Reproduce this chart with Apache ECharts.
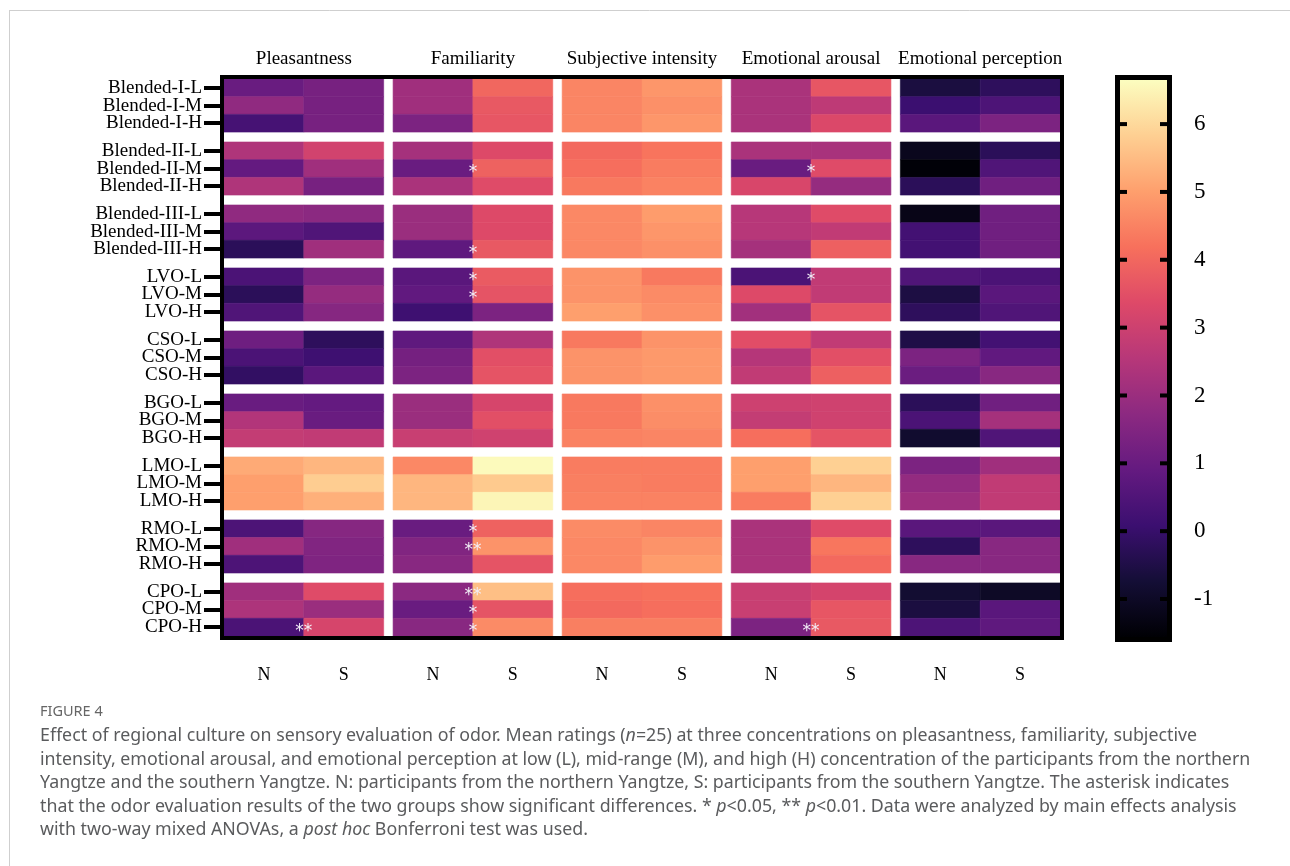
<!DOCTYPE html>
<html><head><meta charset="utf-8">
<script src="https://cdn.jsdelivr.net/npm/echarts@6/dist/echarts.min.js"></script>
<style>html,body{margin:0;padding:0;background:#fff}#c{width:1290px;height:866px}</style>
</head><body><div id="c"></div>
<script>
const rowLabels = ['Blended-I-L','Blended-I-M','Blended-I-H','Blended-II-L','Blended-II-M','Blended-II-H',
  'Blended-III-L','Blended-III-M','Blended-III-H','LVO-L','LVO-M','LVO-H','CSO-L','CSO-M','CSO-H',
  'BGO-L','BGO-M','BGO-H','LMO-L','LMO-M','LMO-H','RMO-L','RMO-M','RMO-H','CPO-L','CPO-M','CPO-H'];
const dimensions = ['Pleasantness','Familiarity','Subjective intensity','Emotional arousal','Emotional perception'];
const regionLabels = ['N','S'];
const colorbarTicks = [-1,0,1,2,3,4,5,6];

const pleasantnessN = [1.0,1.8,0.3, 2.4,0.9,2.4, 1.8,0.75,-0.25, 0.4,-0.25,0.5, 1.1,0.4,-0.1, 1.0,2.45,2.8, 5.2,5.0,5.0, 0.45,2.1,0.45, 2.1,2.35,0.4];
const pleasantnessS = [1.3,1.3,1.3, 3.1,2.1,1.3, 1.7,0.5,2.1, 1.4,1.9,1.6, -0.2,0.15,0.7, 0.9,1.0,2.75, 5.4,5.8,5.3, 1.6,1.5,1.45, 3.4,2.0,3.2];
const familiarityN = [2.1,2.1,1.4, 2.2,1.0,2.3, 2.0,2.0,0.8, 0.7,0.85,0.15, 0.8,1.25,1.4, 2.0,2.0,2.9, 4.6,5.4,5.4, 1.0,1.5,1.65, 1.7,1.0,1.65];
const familiarityS = [4.0,3.7,3.65, 3.35,3.9,3.4, 3.35,3.35,3.7, 3.75,3.6,1.4, 2.4,3.5,3.6, 3.2,3.5,3.05, 6.6,5.75,6.5, 3.9,4.8,3.6, 5.55,3.6,4.65];
const intensityN = [4.55,4.55,4.55, 4.05,4.15,4.35, 4.6,4.6,4.6, 4.8,4.8,5.0, 4.35,4.8,4.8, 4.35,4.35,4.5, 4.4,4.45,4.5, 4.65,4.6,4.6, 4.15,4.05,4.45];
const intensityS = [4.85,4.75,4.85, 4.25,4.4,4.5, 4.95,4.85,4.75, 4.35,4.65,4.75, 4.8,4.9,4.9, 4.75,4.7,4.55, 4.4,4.4,4.5, 4.55,4.8,4.95, 4.2,4.15,4.45];
const arousalN = [2.3,2.3,2.3, 2.3,1.0,3.25, 2.55,2.55,2.2, 0.4,3.35,2.15, 3.45,2.5,2.75, 3.0,2.8,4.15, 5.0,5.0,4.4, 2.3,2.3,2.3, 2.9,2.9,1.4];
const arousalS = [3.65,2.7,3.3, 2.25,3.4,1.9, 3.4,2.75,3.85, 2.75,2.75,3.6, 2.75,3.5,3.85, 3.05,3.05,3.6, 5.85,5.4,5.85, 3.4,4.3,4.05, 3.15,3.65,3.7];
const perceptionN = [-0.6,0.08,0.7, -1.15,-1.5,-0.25, -1.25,0.25,0.25, 0.5,-0.55,-0.2, -0.5,1.4,1.05, -0.25,0.4,-0.85, 1.4,1.85,2.05, 0.7,-0.2,1.65, -0.8,-0.6,0.45];
const perceptionS = [-0.2,0.45,1.4, -0.25,0.5,1.15, 1.15,1.15,1.15, 0.4,0.7,0.5, 0.25,0.85,1.65, 1.15,2.2,0.5, 2.1,2.75,2.75, 0.7,1.65,1.65, -1.0,0.7,0.8];

// significance marks: [dimension index, row index, mark]
const significance = [
  [1,4,'*'],[1,8,'*'],[1,9,'*'],[1,10,'*'],[1,21,'*'],[1,22,'**'],[1,24,'**'],[1,25,'*'],[1,26,'*'],
  [3,4,'*'],[3,9,'*'],[3,26,'**'],
  [0,26,'**']
];

const seriesByColumn = [pleasantnessN,pleasantnessS,familiarityN,familiarityS,intensityN,intensityS,arousalN,arousalS,perceptionN,perceptionS];
const magma = ['#000004','#140e36','#3b0f70','#641a80','#8c2981','#b73779','#de4968','#f7705c','#fe9f6d','#fecf92','#fcfdbf'];

const GAP_X = 0.118, GAP_Y = 0.56;
const X_MAX = 10 + 4*GAP_X, Y_MAX = 27 + 8*GAP_Y;
const C_MIN = -1.56, C_MAX = 6.65;

const cells = [];
seriesByColumn.forEach((arr, c) => arr.forEach((v, r) => cells.push([c, r, v])));

const colCenters = [], rowCenters = [], blockCenters = [];
for (let c = 0; c < 10; c++) colCenters.push(c + Math.floor(c/2)*GAP_X + 0.5);
for (let r = 0; r < 27; r++) rowCenters.push(r + Math.floor(r/3)*GAP_Y + 0.5);
for (let b = 0; b < 5; b++) blockCenters.push(b*(2+GAP_X) + 1);
const evenRowCenters = rowCenters.filter((_, i) => i % 2 === 0);
const oddRowCenters = rowCenters.filter((_, i) => i % 2 === 1);

function nearestIndex(list, v) {
  let best = 0;
  list.forEach((x, i) => { if (Math.abs(x - v) < Math.abs(list[best] - v)) best = i; });
  return best;
}

const serif = 'Liberation Serif';
const capFont = 'Noto Sans';
const capColor = '#5a5b5d';
const capSize = 17.8;
const italicRich = { i: { fontStyle: 'italic', fontFamily: capFont, fontSize: capSize, fill: capColor } };
const captionLines = [
  'Effect of regional culture on sensory evaluation of odor. Mean ratings ({i|n}=25) at three concentrations on pleasantness, familiarity, subjective',
  'intensity, emotional arousal, and emotional perception at low (L), mid-range (M), and high (H) concentration of the participants from the northern',
  'Yangtze and the southern Yangtze. N: participants from the northern Yangtze, S: participants from the southern Yangtze. The asterisk indicates',
  'that the odor evaluation results of the two groups show significant differences. * {i|p}<0.05, ** {i|p}<0.01. Data were analyzed by main effects analysis',
  'with two-way mixed ANOVAs, a {i|post hoc} Bonferroni test was used.'
];
const captionY = [736, 759.5, 783, 806.5, 830];

function rowAxis(gridIndex, values) {
  return {type: 'value', gridIndex: gridIndex, min: 0, max: Y_MAX, inverse: true, position: 'left',
    axisLine: {show: false}, splitLine: {show: false},
    axisTick: {show: true, customValues: values, length: 20, lineStyle: {color: '#000', width: 4}},
    axisLabel: {customValues: values, margin: 22, fontFamily: serif, fontSize: 19, color: '#000',
      showMinLabel: true, showMaxLabel: true,
      formatter: v => rowLabels[nearestIndex(rowCenters, v)]}};
}

const chart = echarts.init(document.getElementById('c'), null, {renderer: 'canvas'});
const option = {
  backgroundColor: '#ffffff',
  animation: false,
  grid: [
    {left: 224, top: 79, width: 836, height: 557},
    {left: 1120, top: 80, width: 47, height: 557},
    {left: 224, top: 79, width: 836, height: 557}
  ],
  xAxis: [
    {type: 'value', gridIndex: 0, min: 0, max: X_MAX, position: 'bottom',
     axisLine: {show: false}, splitLine: {show: false},
     axisTick: {show: true, customValues: colCenters, length: 16, lineStyle: {color: '#000', width: 3}},
     axisLabel: {customValues: colCenters, margin: 30, fontFamily: serif, fontSize: 18, color: '#000',
       showMinLabel: true, showMaxLabel: true,
       formatter: v => regionLabels[nearestIndex(colCenters, v) % 2]}},
    {type: 'value', gridIndex: 0, min: 0, max: X_MAX, position: 'top',
     axisLine: {show: false}, splitLine: {show: false}, axisTick: {show: false},
     axisLabel: {customValues: blockCenters, margin: 10, fontFamily: serif, fontSize: 19, color: '#000',
       showMinLabel: true, showMaxLabel: true,
       formatter: v => dimensions[nearestIndex(blockCenters, v)]}},
    {type: 'value', gridIndex: 1, min: 0, max: 1, show: false},
    {type: 'value', gridIndex: 2, min: 0, max: X_MAX, show: false}
  ],
  yAxis: [
    rowAxis(0, evenRowCenters),
    {type: 'value', gridIndex: 1, min: C_MIN, max: C_MAX, position: 'right',
     axisLine: {show: false}, splitLine: {show: false}, axisTick: {show: false},
     axisLabel: {customValues: colorbarTicks, margin: 27, fontFamily: serif, fontSize: 23, color: '#000',
       showMinLabel: true, showMaxLabel: true,
       formatter: v => String(Math.round(v))}},
    rowAxis(2, oddRowCenters)
  ],
  visualMap: {
    type: 'continuous', show: false, min: C_MIN, max: C_MAX, seriesIndex: 0, dimension: 2,
    inRange: {color: magma}
  },
  series: [
    {type: 'custom', xAxisIndex: 0, yAxisIndex: 0, data: cells, encode: {x: 0, y: 1},
     renderItem: function (params, api) {
       const c = api.value(0), r = api.value(1);
       const x0 = c + Math.floor(c/2)*GAP_X;
       const y0 = r + Math.floor(r/3)*GAP_Y;
       const p0 = api.coord([x0, y0]);
       const p1 = api.coord([x0 + 1, y0 + 1]);
       const col = api.visual('color');
       return {type: 'rect',
         shape: {x: Math.min(p0[0], p1[0]), y: Math.min(p0[1], p1[1]), width: Math.abs(p1[0]-p0[0]), height: Math.abs(p1[1]-p0[1])},
         style: {fill: col, stroke: col, lineWidth: 0.6}};
     }},
    {type: 'custom', xAxisIndex: 0, yAxisIndex: 0, data: significance, encode: {x: 0, y: 1}, z: 5,
     renderItem: function (params, api) {
       const d = api.value(0), r = api.value(1);
       const x = d*(2 + GAP_X) + 1;
       const y = r + Math.floor(r/3)*GAP_Y + 0.5;
       const p = api.coord([x, y]);
       return {type: 'text', x: p[0], y: p[1] + 4,
         style: {text: significance[params.dataIndex][2], fill: '#f2eef6', font: '17px "DejaVu Sans"', align: 'center', verticalAlign: 'middle'}};
     }},
    // colour bar: gradient spanning the colour-scale axis, with inward tick marks at colorbarTicks
    {type: 'custom', xAxisIndex: 2, yAxisIndex: 1, data: [[0, C_MIN, C_MAX]], silent: true,
     renderItem: function (params, api) {
       const p0 = api.coord([0, api.value(1)]);
       const p1 = api.coord([1, api.value(2)]);
       const children = [{type: 'rect',
         shape: {x: p0[0], y: p1[1], width: p1[0] - p0[0], height: p0[1] - p1[1]},
         style: {fill: new echarts.graphic.LinearGradient(0, 1, 0, 0,
           magma.map((c, i) => ({offset: i / (magma.length - 1), color: c})))}}];
       colorbarTicks.forEach(t => {
         const y = api.coord([0, t])[1];
         children.push({type: 'line', shape: {x1: p0[0], y1: y, x2: p0[0] + 7, y2: y}, style: {stroke: '#000', lineWidth: 4}});
         children.push({type: 'line', shape: {x1: p1[0] - 7, y1: y, x2: p1[0], y2: y}, style: {stroke: '#000', lineWidth: 4}});
       });
       return {type: 'group', children: children};
     }}
  ],
  graphic: [
    {type: 'line', shape: {x1: 9, y1: 10.5, x2: 1290, y2: 10.5}, style: {stroke: '#cfcfcf', lineWidth: 1}, silent: true},
    {type: 'line', shape: {x1: 9.5, y1: 10, x2: 9.5, y2: 866}, style: {stroke: '#cfcfcf', lineWidth: 1}, silent: true},
    {type: 'rect', shape: {x: 222, y: 77, width: 840, height: 561}, style: {fill: 'none', stroke: '#000', lineWidth: 4}, z: 100, silent: true},
    {type: 'rect', shape: {x: 1117.5, y: 77.5, width: 52, height: 562}, style: {fill: 'none', stroke: '#000', lineWidth: 5}, z: 100, silent: true},
    {type: 'text', x: 40, y: 712, style: {text: 'FIGURE 4', font: '14.5px "Noto Sans"', fill: '#666', verticalAlign: 'middle'}, silent: true}
  ].concat(captionLines.map((t, i) => ({
    type: 'text', x: 40, y: captionY[i], silent: true,
    style: {text: t, fontFamily: capFont, fontSize: capSize, fill: capColor, verticalAlign: 'middle', rich: italicRich}
  })))
};
chart.setOption(option);
</script>
</body></html>
